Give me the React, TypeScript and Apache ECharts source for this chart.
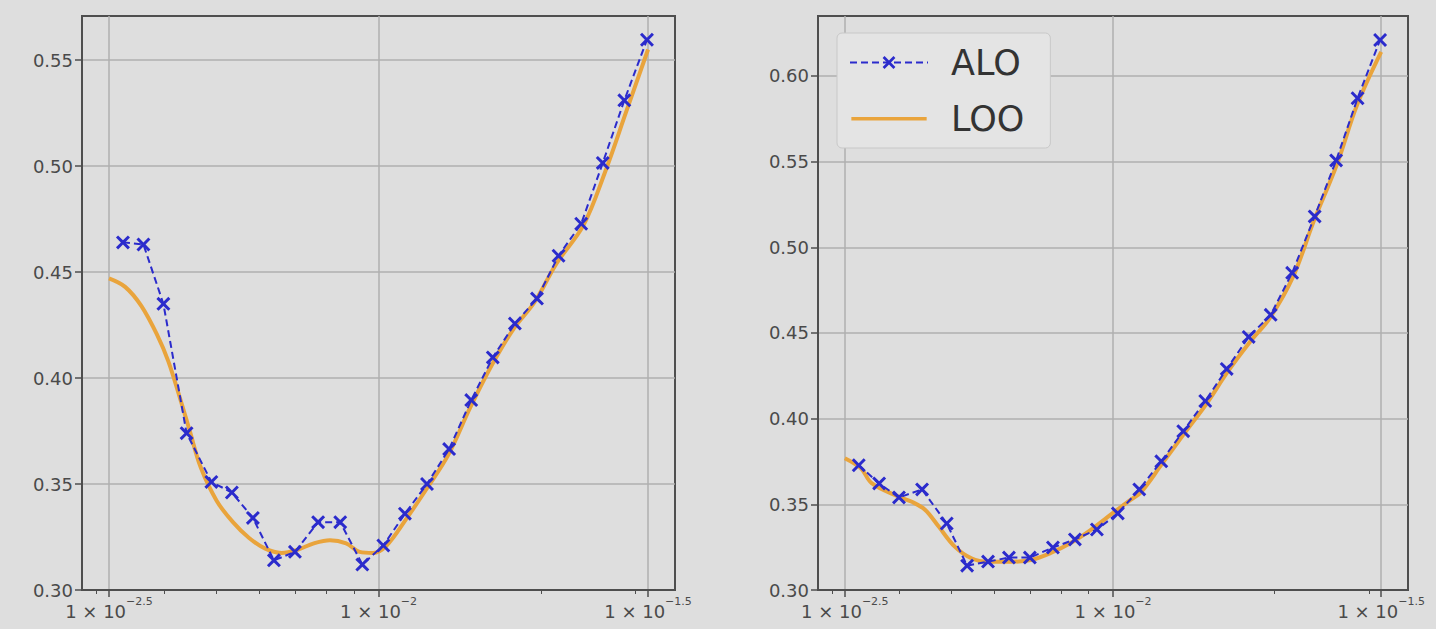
import React, { useEffect, useRef } from "react";
import * as echarts from "echarts";

// log10(lambda) of the ALO grid points
const lambdaExp = [-2.474, -2.436, -2.399, -2.356, -2.31, -2.272, -2.233, -2.194, -2.155, -2.112, -2.071, -2.03, -1.991, -1.951, -1.91, -1.869, -1.828, -1.788, -1.747, -1.706, -1.666, -1.624, -1.584, -1.544, -1.502];

// Left panel
const aloLeft = [0.464, 0.463, 0.435, 0.374, 0.351, 0.346, 0.334, 0.314, 0.318, 0.332, 0.332, 0.312, 0.321, 0.336, 0.35, 0.3665, 0.3896, 0.4097, 0.4257, 0.4375, 0.4577, 0.4728, 0.5015, 0.531, 0.5596];
const looLeftExp = [-2.5, -2.47, -2.44, -2.41, -2.39, -2.37, -2.35, -2.33, -2.3, -2.27, -2.24, -2.21, -2.18, -2.15, -2.12, -2.09, -2.06, -2.035, -2.01, -1.985, -1.95, -1.91, -1.87, -1.83, -1.79, -1.75, -1.71, -1.67, -1.62, -1.58, -1.54, -1.5];
const looLeft = [0.447, 0.443, 0.434, 0.42, 0.408, 0.392, 0.375, 0.358, 0.342, 0.332, 0.3245, 0.3195, 0.3175, 0.319, 0.322, 0.3235, 0.322, 0.318, 0.3175, 0.321, 0.333, 0.348, 0.364, 0.386, 0.406, 0.423, 0.436, 0.454, 0.472, 0.497, 0.526, 0.555];

// Right panel
const aloRight = [0.3728, 0.3622, 0.354, 0.3587, 0.3388, 0.3142, 0.3166, 0.3189, 0.3189, 0.3248, 0.3295, 0.3353, 0.3447, 0.3587, 0.3751, 0.3927, 0.4103, 0.429, 0.4477, 0.4606, 0.4851, 0.518, 0.5507, 0.587, 0.621];
const looRightExp = [-2.5, -2.47, -2.45, -2.4, -2.375, -2.35, -2.325, -2.295, -2.264, -2.233, -2.19, -2.153, -2.116, -2.079, -2.042, -2.0, -1.968, -1.948, -1.91, -1.868, -1.825, -1.787, -1.744, -1.707, -1.664, -1.626, -1.583, -1.545, -1.5];
const looRight = [0.3769, 0.371, 0.3624, 0.3545, 0.3515, 0.3467, 0.337, 0.3253, 0.3185, 0.3165, 0.3165, 0.3175, 0.3216, 0.3274, 0.335, 0.345, 0.3525, 0.357, 0.373, 0.391, 0.409, 0.427, 0.445, 0.459, 0.483, 0.515, 0.548, 0.583, 0.614];

// Axis ticks
const majorExp = [-2.5, -2, -1.5];
const minorLambda = [0.003, 0.004, 0.005, 0.006, 0.007, 0.008, 0.009, 0.02, 0.03];
const yTicksLeft = [0.3, 0.35, 0.4, 0.45, 0.5, 0.55];
const yTicksRight = [0.3, 0.35, 0.4, 0.45, 0.5, 0.55, 0.6];
const xMin = -2.55;
const xMax = -1.45;
const yRangeLeft = [0.3, 0.5708];
const yRangeRight = [0.3, 0.635];

const FONT = "DejaVu Sans";
const BLUE = "#2b2bcc";
const ORANGE = "#e9a43c";
const FRAME = "#4e4e4e";
const GRIDLINE = "#afafaf";
const TEXT = "#4a4a4a";
const XSYM = "path://M0,1.5L1.5,0L5,3.5L8.5,0L10,1.5L6.5,5L10,8.5L8.5,10L5,6.5L1.5,10L0,8.5L3.5,5Z";
const BAR_ICON = "path://M0,0L0,0M0,7L80,7L80,10.5L0,10.5ZM0,17L0,17";

const fmtExp = (v: number) => {
  const s = String(Math.round(v * 10) / 10);
  return s.replace("-", "\u2212");
};

function App() {
  const ref = useRef<HTMLDivElement>(null);
  useEffect(() => {
    if (!ref.current) return;
    const chart = echarts.init(ref.current, undefined, { renderer: "svg" });
    const minorExp = minorLambda.map((l) => Math.log10(l));

    const grids = [
      { left: 82, top: 16, width: 593, height: 574 },
      { left: 818, top: 16, width: 590, height: 574 },
    ];

    const xAxes: any[] = [];
    const yAxes: any[] = [];
    [0, 1].forEach((g) => {
      xAxes.push({
        type: "value",
        gridIndex: g,
        min: xMin,
        max: xMax,
        axisLine: { show: true, lineStyle: { color: FRAME, width: 2 } },
        axisTick: { show: true, customValues: majorExp, length: 7, lineStyle: { color: FRAME, width: 1.5 } },
        axisLabel: {
          customValues: majorExp,
          margin: 6,
          formatter: (v: number) => `{a|1 × 10}{b|${fmtExp(v)}}`,
          rich: {
            a: { fontSize: 18, fontFamily: FONT, color: TEXT, lineHeight: 24, verticalAlign: "bottom" },
            b: { fontSize: 11, fontFamily: FONT, color: TEXT, verticalAlign: "top" },
          },
        },
        splitLine: { show: true, lineStyle: { color: GRIDLINE, width: 1.5 } },
      });
      xAxes.push({
        type: "value",
        gridIndex: g,
        min: xMin,
        max: xMax,
        position: "bottom",
        axisLine: { show: false },
        axisTick: { show: true, customValues: minorExp, length: 4, lineStyle: { color: FRAME, width: 1 } },
        axisLabel: { show: false, customValues: minorExp },
        splitLine: { show: false },
      });
      const yr = g === 0 ? yRangeLeft : yRangeRight;
      const yt = g === 0 ? yTicksLeft : yTicksRight;
      yAxes.push({
        type: "value",
        gridIndex: g,
        min: yr[0],
        max: yr[1],
        axisLine: { show: true, lineStyle: { color: FRAME, width: 2 } },
        axisTick: { show: true, customValues: yt, length: 7, lineStyle: { color: FRAME, width: 1.5 } },
        axisLabel: {
          customValues: yt,
          margin: 9,
          fontSize: 18,
          fontFamily: FONT,
          color: TEXT,
          formatter: (v: number) => v.toFixed(2),
        },
        splitLine: { show: true, lineStyle: { color: GRIDLINE, width: 1.5 } },
      });
    });

    const mkAlo = (g: number, vals: number[]) => ({
      name: "ALO",
      type: "line",
      xAxisIndex: g * 2,
      yAxisIndex: g,
      data: lambdaExp.map((x, i) => [x, vals[i]]),
      symbol: XSYM,
      symbolSize: 14,
      itemStyle: { color: BLUE },
      lineStyle: { color: BLUE, width: 2, type: [7, 4] },
      z: 3,
    });
    const mkLoo = (g: number, xs: number[], vals: number[]) => ({
      name: "LOO",
      type: "line",
      xAxisIndex: g * 2,
      yAxisIndex: g,
      data: xs.map((x, i) => [x, vals[i]]),
      smooth: 0.35,
      showSymbol: false,
      symbol: "none",
      itemStyle: { color: ORANGE },
      lineStyle: { color: ORANGE, width: 4 },
      z: 2,
    });

    chart.setOption({
      animation: false,
      backgroundColor: "#dedede",
      grid: grids.map((g) => ({ ...g, show: true, borderColor: FRAME, borderWidth: 2, backgroundColor: "transparent" })),
      xAxis: xAxes,
      yAxis: yAxes,
      legend: {
        data: [{ name: "ALO" }, { name: "LOO", icon: BAR_ICON, itemStyle: { color: ORANGE } }],
        orient: "vertical",
        left: 837,
        top: 33,
        itemWidth: 78,
        itemHeight: 16,
        itemGap: 21,
        padding: [12, 26, 12, 12],
        backgroundColor: "#e4e4e4",
        borderColor: "#c8c8c8",
        borderWidth: 1,
        borderRadius: 5,
        textStyle: { fontSize: 35, fontFamily: FONT, color: "#333", padding: [0, 0, 0, 18] },
        selectedMode: false,
      },
      series: [mkLoo(0, looLeftExp, looLeft), mkAlo(0, aloLeft), mkLoo(1, looRightExp, looRight), mkAlo(1, aloRight)],
    });
    return () => chart.dispose();
  }, []);
  return <div ref={ref} style={{ position: "fixed", left: 0, top: 0, width: 1436, height: 629 }} />;
}

export default App;
